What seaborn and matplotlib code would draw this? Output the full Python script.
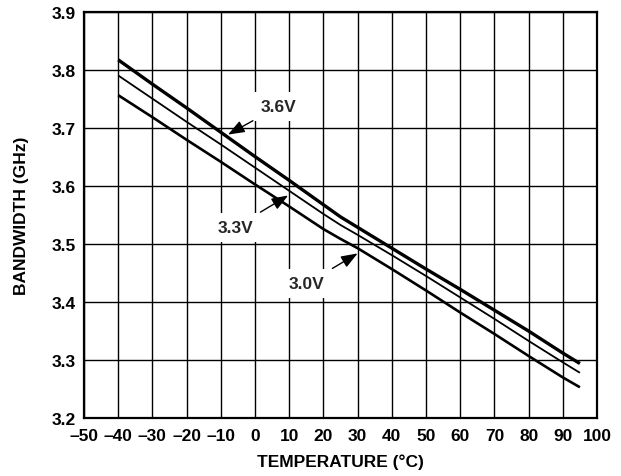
import matplotlib
matplotlib.use("Agg")
import matplotlib.pyplot as plt
import seaborn as sns
import pandas as pd

# Bandwidth vs temperature for three supply voltages
temperature = [-40, -30, -20, -10, 0, 10, 20, 25, 30, 40, 50, 60, 70, 80, 90, 95]
bw_3v6 = [3.818, 3.776, 3.735, 3.693, 3.651, 3.610, 3.568, 3.547, 3.529, 3.493, 3.457, 3.422, 3.386, 3.350, 3.312, 3.294]
bw_3v3 = [3.791, 3.751, 3.711, 3.672, 3.632, 3.592, 3.552, 3.533, 3.516, 3.481, 3.445, 3.408, 3.371, 3.333, 3.296, 3.278]
bw_3v0 = [3.757, 3.719, 3.680, 3.642, 3.603, 3.565, 3.526, 3.509, 3.493, 3.457, 3.420, 3.382, 3.345, 3.307, 3.270, 3.253]

x_ticks = list(range(-50, 101, 10))
x_tick_labels = [f"–{abs(v)}" if v < 0 else str(v) for v in x_ticks]
y_ticks = [3.2, 3.3, 3.4, 3.5, 3.6, 3.7, 3.8, 3.9]
y_tick_labels = [f"{v:.1f}" for v in y_ticks]

series = {"3.6V": (bw_3v6, 2.4), "3.3V": (bw_3v3, 1.3), "3.0V": (bw_3v0, 1.9)}

sns.set_theme(style="white")
plt.rcParams["font.family"] = ["Liberation Sans", "DejaVu Sans"]
plt.rcParams["font.weight"] = "bold"

FS = 12.5

fig = plt.figure(figsize=(6.21, 4.77), dpi=100)
ax = fig.add_axes([0.1353, 0.1216, 0.8261, 0.8505])

for name, (vals, lw) in series.items():
    df = pd.DataFrame({"T": temperature, "BW": vals})
    sns.lineplot(data=df, x="T", y="BW", ax=ax, color="black", linewidth=lw,
                 solid_capstyle="butt", zorder=3)

ax.set_xlim(-50, 100)
ax.set_ylim(3.2, 3.9)
ax.set_xticks(x_ticks)
ax.set_xticklabels(x_tick_labels)
ax.set_yticks(y_ticks)
ax.set_yticklabels(y_tick_labels)
ax.grid(True, color="black", linewidth=1.0, zorder=1)
ax.set_axisbelow(True)
for sp in ax.spines.values():
    sp.set_color("black")
    sp.set_linewidth(1.6)
ax.tick_params(axis="x", length=0, labelsize=FS, pad=7, colors="black")
ax.tick_params(axis="y", length=0, labelsize=FS, pad=6, colors="black")
for lab in ax.get_xticklabels() + ax.get_yticklabels():
    lab.set_fontweight("bold")

ax.set_xlabel("TEMPERATURE (°C)", fontsize=FS, fontweight="bold", labelpad=8, color="black")
ax.set_ylabel("BANDWIDTH (GHz)", fontsize=FS, fontweight="bold", labelpad=16, color="black")

box = dict(boxstyle="square,pad=0.4", fc="white", ec="none")
arrow = dict(arrowstyle="-|>,head_length=0.8,head_width=0.3", color="black", lw=1.0,
             shrinkA=1, shrinkB=0)
ax.annotate("3.6V", xy=(-7.9, 3.689), xytext=(7.0, 3.738), fontsize=FS, fontweight="bold",
            ha="center", va="center", bbox=box, arrowprops=arrow, zorder=5)
ax.annotate("3.3V", xy=(9.7, 3.584), xytext=(-5.8, 3.529), fontsize=FS, fontweight="bold",
            ha="center", va="center", bbox=box, arrowprops=arrow, zorder=5)
ax.annotate("3.0V", xy=(30.0, 3.484), xytext=(15.2, 3.432), fontsize=FS, fontweight="bold",
            ha="center", va="center", bbox=box, arrowprops=arrow, zorder=5)

fig.savefig("out.png", dpi=100)
